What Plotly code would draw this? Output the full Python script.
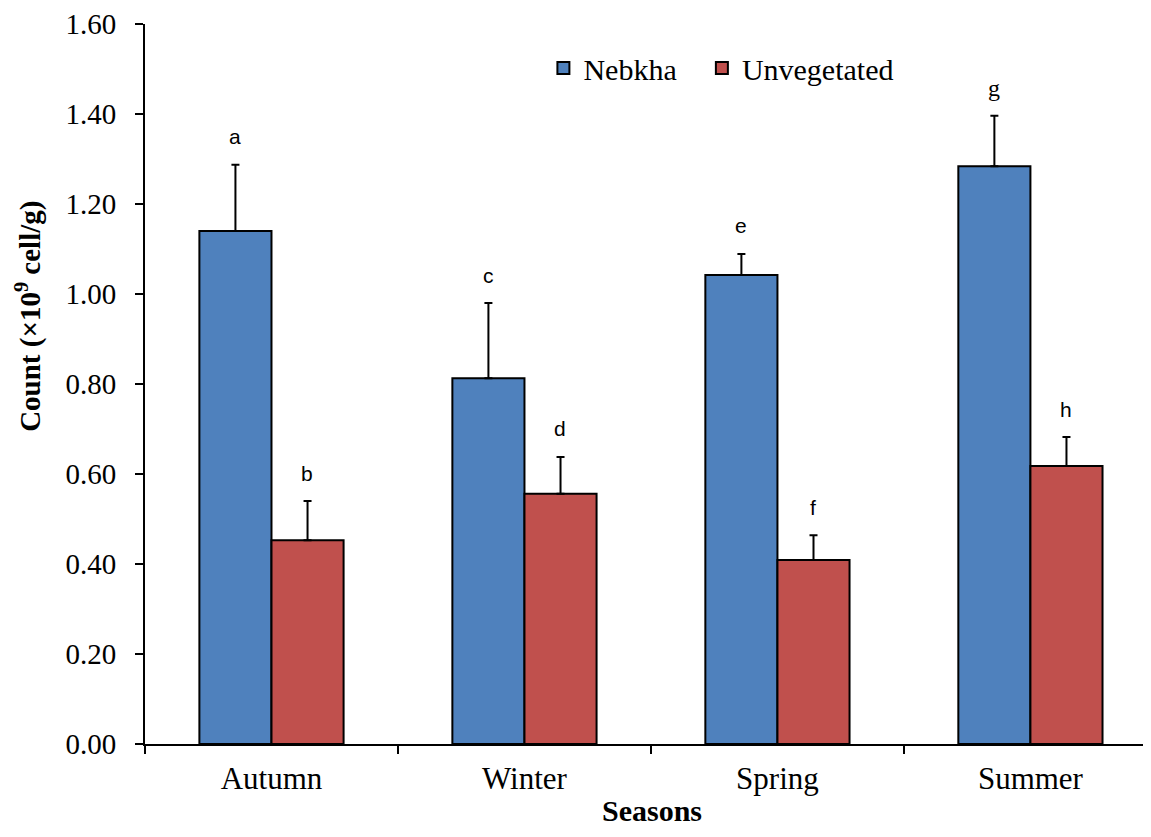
import plotly.graph_objects as go

seasons = ["Autumn", "Winter", "Spring", "Summer"]
nebkha = [1.14, 0.813, 1.042, 1.284]
nebkha_err = [0.147, 0.167, 0.047, 0.112]
unveg = [0.453, 0.556, 0.409, 0.618]
unveg_err = [0.087, 0.082, 0.055, 0.064]
letters_neb = ["a", "c", "e", "g"]
letters_unv = ["b", "d", "f", "h"]

fig = go.Figure()
fig.add_trace(go.Bar(
    x=seasons, y=nebkha, name="Nebkha", legend="legend",
    marker=dict(color="#4F81BD", line=dict(color="black", width=2)),
    error_y=dict(type="data", array=nebkha_err, arrayminus=[0]*4, symmetric=False,
                 color="black", thickness=2, width=4),
    offsetgroup=0,
))
fig.add_trace(go.Bar(
    x=seasons, y=unveg, name="Unvegetated", legend="legend2",
    marker=dict(color="#C0504D", line=dict(color="black", width=2)),
    error_y=dict(type="data", array=unveg_err, arrayminus=[0]*4, symmetric=False,
                 color="black", thickness=2, width=4),
    offsetgroup=1,
))

sans = "Liberation Sans, Arial, sans-serif"
serif = "Liberation Serif, Times New Roman, serif"
for i, s in enumerate(seasons):
    fig.add_annotation(x=s, y=nebkha[i] + nebkha_err[i], text=letters_neb[i],
                       xshift=-36, yshift=28, showarrow=False, yanchor="middle",
                       font=dict(family=serif if letters_neb[i] == "g" else sans,
                                 size=24 if letters_neb[i] == "g" else 21, color="black"))
    fig.add_annotation(x=s, y=unveg[i] + unveg_err[i], text=letters_unv[i],
                       xshift=36, yshift=28, showarrow=False, yanchor="middle",
                       font=dict(family=sans, size=21, color="black"))

fig.add_annotation(xref="paper", yref="paper", x=-0.1167, y=0.594,
                   text="<b>Count (×10<sup>9</sup> cell/g)</b>", textangle=-90,
                   showarrow=False, xanchor="center", yanchor="middle",
                   font=dict(family=serif, size=29, color="black"))
fig.add_annotation(xref="paper", yref="paper", x=0.508, y=-0.1175,
                   text="<b>Seasons</b>", showarrow=False,
                   xanchor="center", yanchor="bottom",
                   font=dict(family=serif, size=30, color="black"))

leg_common = dict(orientation="h", xanchor="left", yanchor="middle",
                  font=dict(family=serif, size=30, color="black"), itemwidth=30,
                  bgcolor="rgba(0,0,0,0)")

fig.update_layout(
    width=1135, height=821,
    margin=dict(l=137, r=0, t=16, b=85),
    paper_bgcolor="white", plot_bgcolor="white",
    barmode="group", bargap=0.43, bargroupgap=0,
    font=dict(family=serif, size=29, color="black"),
    showlegend=True,
    legend=dict(x=0.3992, y=0.939, **leg_common),
    legend2=dict(x=0.558, y=0.939, **leg_common),
    xaxis=dict(
        range=[-0.5, 3.445],
        showline=True, linecolor="black", linewidth=2,
        ticks="outside", tickson="boundaries", ticklen=8, tickwidth=2, tickcolor="black",
        tickfont=dict(family=serif, size=31), showgrid=False, ticklabelstandoff=6,
    ),
    yaxis=dict(
        range=[0, 1.6], tickvals=[0, 0.2, 0.4, 0.6, 0.8, 1.0, 1.2, 1.4, 1.6],
        tickformat=".2f",
        showline=True, linecolor="black", linewidth=2,
        ticks="outside", ticklen=8, tickwidth=2, tickcolor="black",
        tickfont=dict(family=serif, size=29), showgrid=False, zeroline=False,
        ticklabelstandoff=13,
    ),
)

fig.write_html("out.html")
